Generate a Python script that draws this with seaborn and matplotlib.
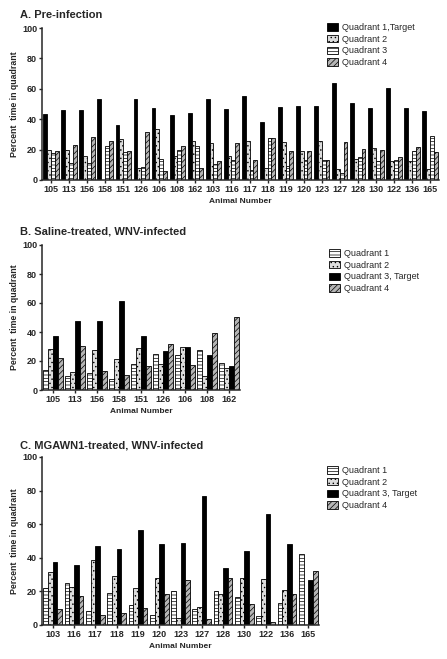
import numpy as np
import pandas as pd
import seaborn as sns
import matplotlib
matplotlib.use("Agg")
from matplotlib import pyplot as plt
from matplotlib.patches import Patch

# ---- data ----
quads = ['Q1', 'Q2', 'Q3', 'Q4']

# A. pre-infection (Quadrant 1 is target)
animals_a = ['105', '113', '156', '158', '151', '126', '106', '108', '162', '103', '116',
             '117', '118', '119', '120', '123', '127', '128', '130', '122', '136', '165']
a_q1 = [43.4, 46, 46, 53, 36.4, 53, 47.4, 42.5, 44.3, 53.3, 47, 55.3, 38, 47.8, 48.7, 48.7, 64, 50.4, 47.4, 60.3, 47.4, 45.4]
a_q2 = [20, 20, 16, 0, 26.8, 8, 33.8, 16, 25.9, 24.1, 16, 25.7, 8, 25.2, 19, 25.9, 7, 14, 21, 12.3, 12.3, 7.5]
a_q3 = [18, 11, 11, 22.5, 18.6, 8.5, 13.8, 19.7, 22.6, 10.7, 13.4, 6.4, 27.4, 9, 13.2, 13, 4.4, 15, 12.3, 13.2, 19, 29]
a_q4 = [19.3, 23, 28, 25.7, 19, 31.6, 6, 22.6, 8, 12.5, 24.3, 13.2, 27.4, 19, 19, 13, 25, 20.6, 19.7, 15, 21.7, 18.6]
labels_a = ['Quadrant 1,Target', 'Quadrant 2', 'Quadrant 3', 'Quadrant 4']

# B. saline-treated (Quadrant 3 is target)
animals_b = ['105', '113', '156', '158', '151', '126', '106', '108', '162']
b_q1 = [13.6, 10, 12, 7.6, 17.7, 24.8, 24.1, 27.8, 18.9]
b_q2 = [28, 12.2, 27.8, 21.1, 29, 17.7, 29.4, 9.4, 15.2]
b_q3 = [37.5, 47.4, 47.4, 61.4, 37.5, 26.7, 29.9, 23.9, 16.6]
b_q4 = [21.8, 30.6, 13.1, 10.6, 16.6, 31.5, 17, 39.5, 50.1]
labels_b = ['Quadrant 1', 'Quadrant 2', 'Quadrant 3, Target', 'Quadrant 4']

# C. MGAWN1-treated (Quadrant 3 is target)
animals_c = ['103', '116', '117', '118', '119', '120', '123', '127', '128', '130', '122', '136', '165']
c_q1 = [22.2, 25, 8.5, 19, 11.7, 5.8, 20, 9.3, 20.4, 16.5, 5.4, 12.9, 42.3]
c_q2 = [31.5, 22.6, 38.9, 29.2, 22, 27.8, 4, 11, 18.3, 28, 27.4, 20.6, 0]
c_q3 = [37.3, 35.7, 47, 45, 56.3, 48.4, 49, 77, 34, 44, 65.9, 48.2, 26.8]
c_q4 = [9.7, 17, 6, 7.1, 10.1, 18.5, 27, 3.4, 28, 12.5, 2, 18.5, 32.1]

# ---- styles ----
sns.set_style('ticks')
plt.rcParams['font.family'] = ['Liberation Sans', 'DejaVu Sans']
plt.rcParams['hatch.linewidth'] = 0.5

black = dict(fc='black', hatch='')
dots = dict(fc='#dcdcdc', hatch='....')
hlines = dict(fc='white', hatch='-----')
diag = dict(fc='#b5b5b5', hatch='//////')

styles_a = [black, dots, hlines, diag]
styles_bc = [hlines, dots, black, diag]


def long_table(animals, q1, q2, q3, q4):
    rows = []
    for qname, vals in zip(quads, [q1, q2, q3, q4]):
        for an, v in zip(animals, vals):
            rows.append({'animal': an, 'quadrant': qname, 'pct': v})
    return pd.DataFrame(rows)


def panel(fig, rect, title, title_y, animals, vals, styles, labels, width, leg_xy):
    ax = fig.add_axes(rect)
    df = long_table(animals, *vals)
    sns.barplot(data=df, x='animal', y='pct', hue='quadrant', order=animals,
                hue_order=quads, palette=[s['fc'] for s in styles],
                edgecolor='black', linewidth=0.6, width=width, saturation=1,
                legend=False, ax=ax)
    for cont, st in zip(ax.containers, styles):
        for bar in cont:
            bar.set_hatch(st['hatch'])
            bar.set_edgecolor('black')
    ax.set_ylim(0, 100)
    ax.set_xlim(-0.5, len(animals) - 0.5)
    ax.set_yticks(range(0, 101, 20))
    sns.despine(ax=ax)
    for sp in ['left', 'bottom']:
        ax.spines[sp].set_linewidth(1.1)
    ax.tick_params(axis='y', length=2.5, width=1, pad=1, labelsize=6.5)
    ax.tick_params(axis='x', length=2, width=1, pad=1.5, labelsize=6.5)
    for t in ax.get_xticklabels() + ax.get_yticklabels():
        t.set_fontweight('bold')
    ax.set_ylabel('Percent  time in quadrant', fontsize=6.3, fontweight='bold', labelpad=2)
    ax.set_xlabel('Animal Number', fontsize=6, fontweight='bold', labelpad=3)
    fig.text(20 / 447, 1 - title_y / 659, title, fontsize=8, fontweight='bold', va='center')

    handles = [Patch(facecolor=s['fc'], hatch=s['hatch'], edgecolor='black', linewidth=0.6)
               for s in styles]
    ax.legend(handles, labels, loc='upper left',
              bbox_to_anchor=(leg_xy[0] / 447, 1 - leg_xy[1] / 659),
              bbox_transform=fig.transFigure, frameon=False, fontsize=6.5,
              borderpad=0, borderaxespad=0, handlelength=1.2, handleheight=0.9,
              handletextpad=0.5, labelspacing=0.3)
    return ax


fig = plt.figure(figsize=(4.47, 6.59), dpi=100)

panel(fig, [42 / 447, 1 - 180 / 659, 397 / 447, 152 / 659], 'A. Pre-infection', 15,
      animals_a, [a_q1, a_q2, a_q3, a_q4], styles_a, labels_a, 0.85, (327, 23))
panel(fig, [42 / 447, 1 - 390 / 659, 198 / 447, 145 / 659], 'B. Saline-treated, WNV-infected', 231,
      animals_b, [b_q1, b_q2, b_q3, b_q4], styles_bc, labels_b, 0.9, (329, 249))
panel(fig, [42 / 447, 1 - 625 / 659, 277 / 447, 168 / 659], 'C. MGAWN1-treated, WNV-infected', 445,
      animals_c, [c_q1, c_q2, c_q3, c_q4], styles_bc, labels_b, 0.88, (327, 466))

fig.savefig('out.png', dpi=100)
